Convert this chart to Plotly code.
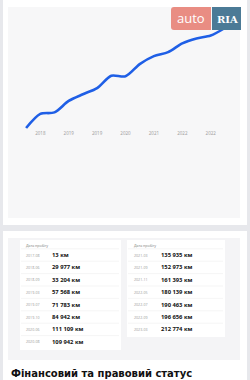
import plotly.graph_objects as go

W, H = 250, 380

# ---- data ----
dates_left = ["2017-08", "2018-06", "2018-09", "2019-03", "2019-07", "2019-10", "2020-06", "2020-08"]
km_left = [13, 29977, 33204, 57568, 71783, 84942, 111109, 109942]
dates_right = ["2021-03", "2021-09", "2021-11", "2022-05", "2022-07", "2022-09", "2023-03"]
km_right = [135935, 152973, 161393, 180139, 190463, 196656, 212774]

dates = dates_left + dates_right
km = km_left + km_right
tick_idx = [1, 3, 5, 7, 9, 11, 13]
tick_text = [dates[i][:4] for i in tick_idx]

header = "Дата пробігу"
section_title = "Фінансовий та правовий статус"


def fmt(v):
    return f"{v:,}".replace(",", " ") + " км"


def px(x):
    return x / W


def py(y):
    return 1 - y / H


fig = go.Figure()
fig.add_trace(go.Scatter(
    x=list(range(len(km))), y=km, mode="lines",
    line=dict(color="#1f5fe6", width=2.6, shape="spline", smoothing=0.8),
    hoverinfo="skip", showlegend=False,
))

shapes = []


def rect(x0, y0, x1, y1, color, layer="below"):
    shapes.append(dict(type="rect", xref="paper", yref="paper",
                       x0=px(x0), x1=px(x1), y0=py(y1), y1=py(y0),
                       fillcolor=color, line=dict(width=0), layer=layer))


# cards
rect(3, -2, 247, 225, "#ffffff")
rect(8, 7, 240, 218, "#f7f7f8")
rect(3, 231, 247, 382, "#ffffff")
rect(8, 238, 240, 360, "#f4f4f6")
rect(20, 240, 121, 350, "#ffffff")
rect(127, 240, 225, 337, "#ffffff")

annotations = []


def text(x, y, s, size, color, bold=False, xanchor="left", family="Open Sans, sans-serif", yanchor="middle"):
    annotations.append(dict(xref="paper", yref="paper", x=px(x), y=py(y), text=f"<b>{s}</b>" if bold else s,
                            showarrow=False, xanchor=xanchor, yanchor=yanchor,
                            font=dict(size=size, color=color, family=family)))


# table rows
row_y0, row_dy = 255, 12.4
for col, (ds, ks, xd, xk, x0, x1) in enumerate([
        (dates_left, km_left, 24, 50, 21, 119),
        (dates_right, km_right, 132, 159, 128, 223)]):
    text(xd, 245, header, 3.6, "#777777")
    for i, (d, k) in enumerate(zip(ds, ks)):
        yy = row_y0 + i * row_dy
        text(xd, yy, d, 3.6, "#999999")
        text(xk, yy, fmt(k), 5.8, "#111111", bold=True)
        shapes.append(dict(type="line", xref="paper", yref="paper",
                           x0=px(x0), x1=px(x1), y0=py(yy - 6.2), y1=py(yy - 6.2),
                           line=dict(color="#efefef", width=0.6), layer="below"))

# logo watermark
shapes.append(dict(type="path", xref="paper", yref="paper",
                   path=f"M {px(174)} {py(7)} L {px(211)} {py(7)} L {px(211)} {py(30)} L {px(174)} {py(30)} "
                        f"Q {px(171)} {py(30)} {px(171)} {py(27)} L {px(171)} {py(10)} Q {px(171)} {py(7)} {px(174)} {py(7)} Z",
                   fillcolor="#e8877c", line=dict(width=0), layer="above", opacity=0.95))
rect(212, 7, 241, 30, "#4b7a96", layer="above")
text(191, 18.5, "auto", 13, "#ffffff", xanchor="center")
text(227, 19, "<b>RIA</b>", 10, "#ffffff", xanchor="center", family="DejaVu Serif, serif")

# section title
text(9, 366, section_title, 10, "#111111", bold=True, yanchor="top", family="DejaVu Sans, sans-serif")

fig.update_layout(
    width=W, height=H, margin=dict(l=0, r=0, t=0, b=0),
    paper_bgcolor="#e7e8ec", plot_bgcolor="rgba(0,0,0,0)",
    shapes=shapes, annotations=annotations,
    xaxis=dict(domain=[px(19), px(232)], range=[-0.5, 14.5], showgrid=False, zeroline=False,
               showline=False, tickvals=tick_idx, ticktext=tick_text, ticks="",
               tickfont=dict(size=4.5, color="#9a9a9a"), fixedrange=True),
    yaxis=dict(domain=[py(129.4), py(24.6)], range=[-3000, 220000], showgrid=False, zeroline=False,
               showline=False, showticklabels=False, fixedrange=True),
)

fig.write_html("out.html")
